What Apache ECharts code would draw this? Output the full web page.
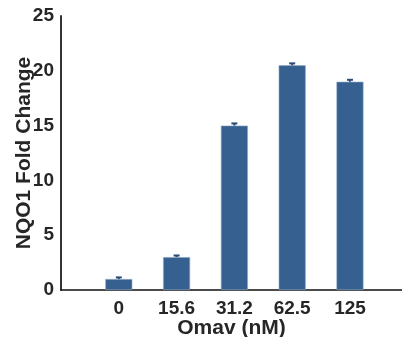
<!DOCTYPE html>
<html>
<head>
<meta charset="utf-8">
<script src="https://cdn.jsdelivr.net/npm/echarts@6/dist/echarts.min.js"></script>
<style>html,body{margin:0;padding:0;background:#fff;}#c{width:402px;height:337px;}</style>
</head>
<body>
<div id="c"></div>
<script>
var categories = ['0', '15.6', '31.2', '62.5', '125'];
var foldChange = [1.0, 3.0, 15.0, 20.5, 19.0];
var errors = [0.15, 0.15, 0.2, 0.18, 0.18];
var yTicks = [0, 5, 10, 15, 20, 25];

var barData = foldChange.map(function (v, i) { return [i, v]; });
var errData = foldChange.map(function (v, i) { return [i, v, v + errors[i]]; });

var chart = echarts.init(document.getElementById('c'));
var fontFam = 'Liberation Sans, Arial, sans-serif';
chart.setOption({
  animation: false,
  grid: { left: 61, right: 0, top: 16, bottom: 47, containLabel: false, outerBoundsMode: 'none' },
  xAxis: {
    type: 'value', min: -1, max: 4.9, interval: 1,
    name: 'Omav (nM)', nameLocation: 'middle', nameGap: 28, nameMoveOverlap: false,
    nameTextStyle: { fontFamily: fontFam, fontWeight: 'bold', fontSize: 21, color: '#262626' },
    axisLine: { show: true, onZero: false, lineStyle: { color: '#111', width: 1.5 } },
    axisTick: { show: false },
    splitLine: { show: false },
    axisLabel: {
      margin: 9, fontFamily: fontFam, fontWeight: 'bold', fontSize: 19, color: '#262626',
      formatter: function (v) { return (Number.isInteger(v) && v >= 0 && v < categories.length) ? categories[v] : ''; }
    }
  },
  yAxis: {
    type: 'value', min: yTicks[0], max: yTicks[yTicks.length - 1], interval: 5,
    name: 'NQO1 Fold Change', nameLocation: 'middle', nameGap: 26, nameMoveOverlap: false,
    nameTextStyle: { fontFamily: fontFam, fontWeight: 'bold', fontSize: 21, color: '#262626' },
    axisLine: { show: true, onZero: false, lineStyle: { color: '#333', width: 2 } },
    axisTick: { show: false },
    splitLine: { show: false },
    axisLabel: { margin: 7, fontFamily: fontFam, fontWeight: 'bold', fontSize: 19, color: '#262626' }
  },
  series: [
    {
      type: 'bar', data: barData, barWidth: 27,
      itemStyle: { color: '#36608f', borderColor: '#8fa8c4', borderWidth: 0.6 }
    },
    {
      type: 'custom', data: errData, z: 5,
      renderItem: function (params, api) {
        var x = api.value(0);
        var lo = api.coord([x, api.value(1)]);
        var hi = api.coord([x, api.value(2)]);
        return {
          type: 'group',
          children: [
            { type: 'line', shape: { x1: lo[0], y1: lo[1], x2: hi[0], y2: hi[1] }, style: { stroke: '#2a4d78', lineWidth: 2 } },
            { type: 'line', shape: { x1: hi[0] - 3, y1: hi[1], x2: hi[0] + 3, y2: hi[1] }, style: { stroke: '#2a4d78', lineWidth: 2 } }
          ]
        };
      }
    }
  ]
});
</script>
</body>
</html>
